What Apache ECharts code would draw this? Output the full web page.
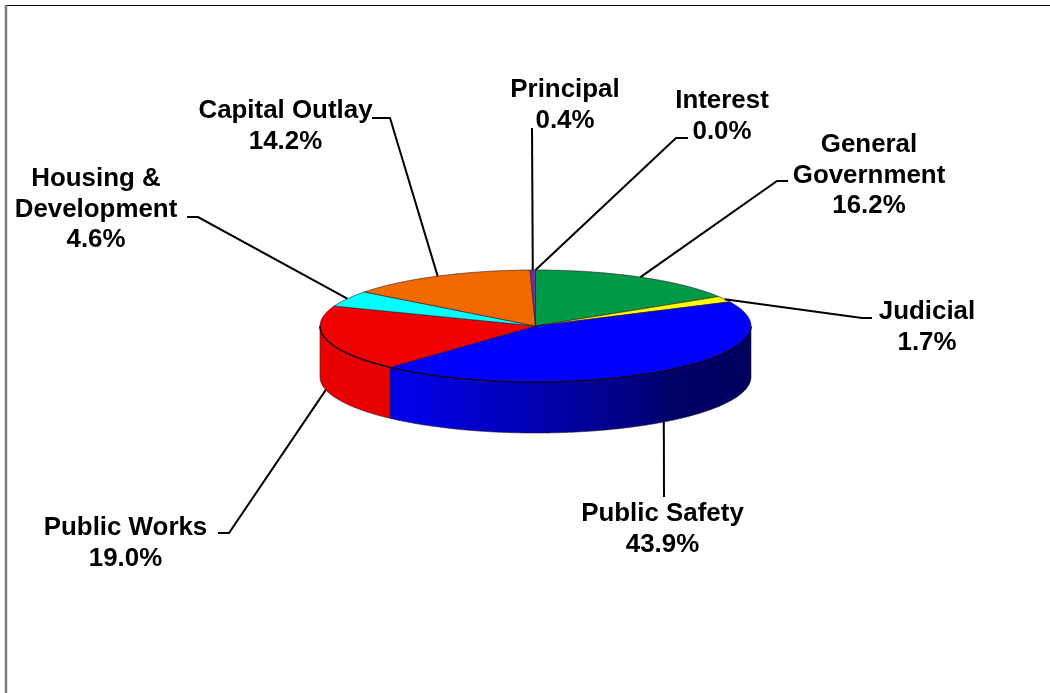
<!DOCTYPE html>
<html>
<head>
<meta charset="utf-8">
<style>html,body{margin:0;padding:0;background:#fff}#chart{width:1050px;height:693px}</style>
<script src="https://cdn.jsdelivr.net/npm/echarts@6/dist/echarts.min.js"></script>
</head>
<body>
<div id="chart"></div>
<script>
// Budget shares, clockwise from twelve o'clock.
const categories = ['General Government', 'Judicial', 'Public Safety', 'Public Works',
  'Housing & Development', 'Capital Outlay', 'Principal', 'Interest'];
const shares = [16.2, 1.7, 43.9, 19.0, 4.6, 14.2, 0.4, 0.0];
const percentLabels = ['16.2%', '1.7%', '43.9%', '19.0%', '4.6%', '14.2%', '0.4%', '0.0%'];

const topColors = ['#009A46', '#FFFF00', '#0000FF', '#F00000', '#00FFFF', '#F06A00', '#7030A0', '#7030A0'];

// Disc geometry in pixels.
const disc = { cx: 535.5, cy: 326, rx: 215.5, ry: 56, depth: 51 };

// Text block and leader elbow for each slice.
const callouts = [
  { lines: ['General', 'Government'], x: 869, y: 130, bend: [[788, 181], [777, 181]], onSide: false },
  { lines: ['Judicial'], x: 927, y: 297, bend: [[872, 318], [862, 318]], onSide: false },
  { lines: ['Public Safety'], x: 662.5, y: 499, bend: [[664, 497]], onSide: true },
  { lines: ['Public Works'], x: 125.5, y: 513, bend: [[218, 533], [229, 533]], onSide: true },
  { lines: ['Housing &', 'Development'], x: 96, y: 164, bend: [[187, 217], [198, 217]], onSide: false },
  { lines: ['Capital Outlay'], x: 285.5, y: 96, bend: [[372, 118], [390, 118]], onSide: false },
  { lines: ['Principal'], x: 565, y: 75, bend: [[532, 128]], onSide: false },
  { lines: ['Interest'], x: 722, y: 86, bend: [[688, 138], [676, 138]], onSide: false }
];

const total = shares.reduce((a, b) => a + b, 0);
const toAngle = (share) => share / total * Math.PI * 2;

function rimPoint(angle, drop) {
  return [disc.cx + disc.rx * Math.sin(angle), disc.cy - disc.ry * Math.cos(angle) + drop];
}

function arcPoints(from, to, drop) {
  const steps = Math.max(2, Math.ceil((to - from) / 0.01));
  const pts = [];
  for (let i = 0; i <= steps; i++) pts.push(rimPoint(from + (to - from) * i / steps, drop));
  return pts;
}

const edgeStroke = { stroke: 'rgba(50,20,40,0.6)', lineWidth: 1 };

// Shading of the outer wall: a lit left side falling to deep navy on the right.
function wallFill(index) {
  if (index === 2) {
    return new echarts.graphic.LinearGradient(0, 0, 1, 0, [
      { offset: 0, color: '#0000EE' },
      { offset: 0.25, color: '#0000C8' },
      { offset: 0.5, color: '#0000A0' },
      { offset: 0.69, color: '#000080' },
      { offset: 0.78, color: '#000068' },
      { offset: 1, color: '#00005E' }
    ]);
  }
  return '#E80000';
}

function renderSlice(params, api) {
  const i = params.dataIndex;
  const value = api.value(0);
  let before = 0;
  for (let k = 0; k < i; k++) before += shares[k];
  const start = toAngle(before);
  const end = start + toAngle(value);
  const mid = (start + end) / 2;
  const children = [];

  // Visible wall: the part of the slice on the front half of the disc.
  const wallFrom = Math.max(start, Math.PI / 2);
  const wallTo = Math.min(end, Math.PI * 1.5);
  if (wallTo > wallFrom) {
    const upper = arcPoints(wallFrom, wallTo, 0);
    const lower = arcPoints(wallFrom, wallTo, disc.depth).reverse();
    children.push({
      type: 'polygon', z2: 1,
      shape: { points: upper.concat(lower) },
      style: Object.assign({ fill: wallFill(i) }, edgeStroke)
    });
  }

  // Top face.
  if (value > 0) {
    children.push({
      type: 'polygon', z2: 2,
      shape: { points: [[disc.cx, disc.cy]].concat(arcPoints(start, end, 0)) },
      style: Object.assign({ fill: topColors[i] }, edgeStroke)
    });
  }

  // Darker crease where the top face meets the wall.
  if (wallTo > wallFrom) {
    children.push({
      type: 'polyline', z2: 2,
      shape: { points: arcPoints(wallFrom, wallTo, 0) },
      style: { fill: null, stroke: 'rgba(20,0,30,0.85)', lineWidth: 1.5 }
    });
  }

  // Leader line from the rim at the slice's middle angle.
  const info = callouts[i];
  const anchor = rimPoint(mid, info.onSide ? disc.depth : 0);
  children.push({
    type: 'polyline', z2: 3,
    shape: { points: [anchor].concat(info.bend.slice().reverse()) },
    style: { fill: null, stroke: '#000', lineWidth: 2 }
  });

  // Category and percentage text.
  const rows = info.lines.concat([percentLabels[i]]);
  children.push({
    type: 'text', z2: 4,
    x: info.x, y: info.y,
    style: {
      text: rows.join('\n'),
      font: 'bold 25.9px "Liberation Sans", Arial, sans-serif',
      lineHeight: 30.3,
      fill: '#000',
      align: 'center',
      verticalAlign: 'top'
    }
  });

  return { type: 'group', children };
}

const chart = echarts.init(document.getElementById('chart'), null, { renderer: 'canvas' });
chart.setOption({
  animation: false,
  backgroundColor: '#fff',
  graphic: [
    { type: 'line', z: 0, shape: { x1: 6, y1: 5.5, x2: 1050, y2: 5.5 }, style: { stroke: '#111', lineWidth: 1.2 } },
    { type: 'line', z: 0, shape: { x1: 6, y1: 5, x2: 6, y2: 693 }, style: { stroke: '#777', lineWidth: 2.4 } }
  ],
  series: [{
    type: 'custom',
    coordinateSystem: 'none',
    name: 'Expenditures',
    data: shares.map((v, i) => ({ name: categories[i], value: [v] })),
    renderItem: renderSlice,
    silent: true
  }]
});
</script>
</body>
</html>
